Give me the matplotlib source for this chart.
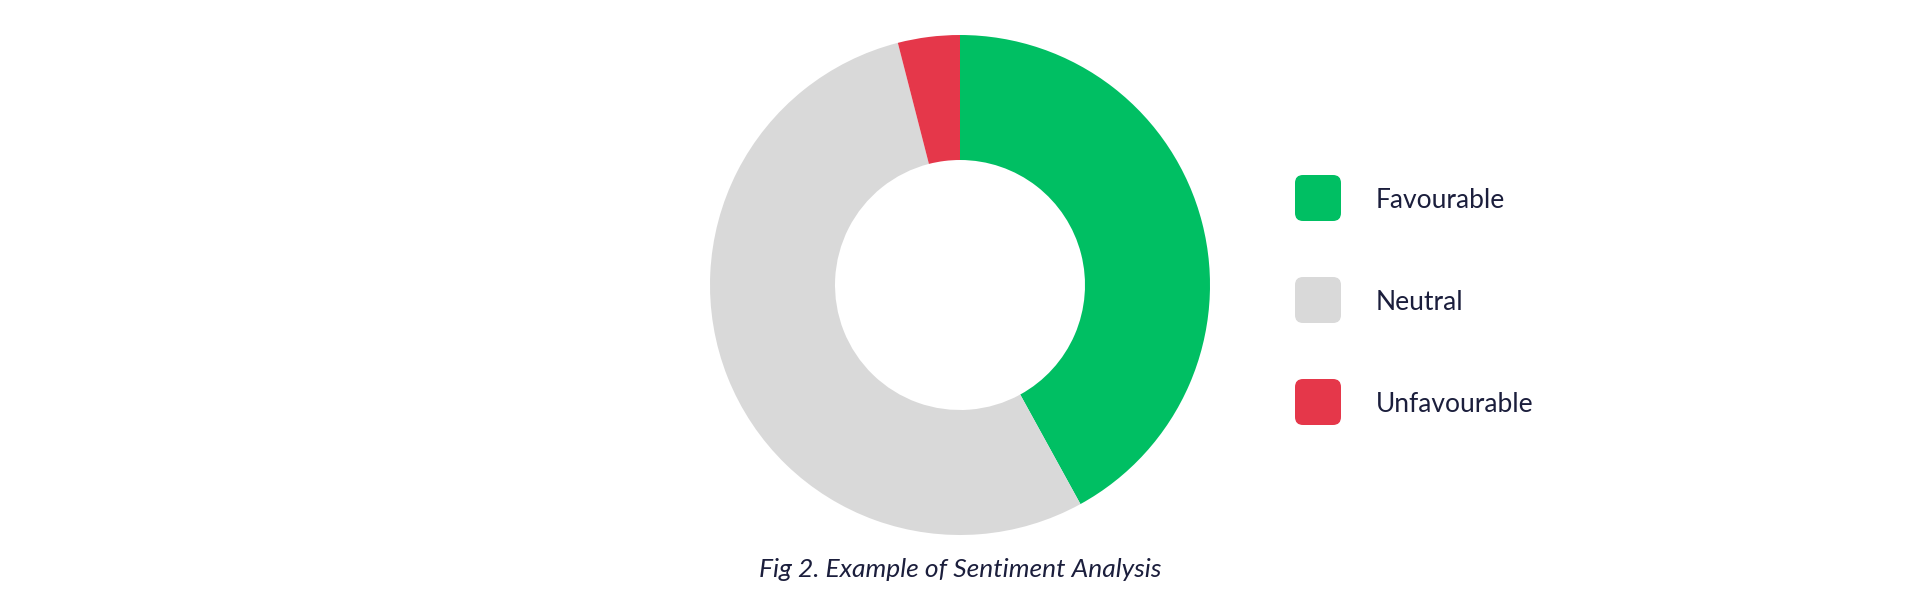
import matplotlib
matplotlib.use('Agg')
import matplotlib.pyplot as plt
from matplotlib.patches import FancyBboxPatch

# --- data ---
labels = ['Favourable', 'Neutral', 'Unfavourable']
shares = [42, 54, 4]
colors = ['#00BF63', '#D9D9D9', '#E5374A']
caption = 'Fig 2. Example of Sentiment Analysis'

TEXT_COLOR = '#1B1E3C'
W, H = 1920, 600

plt.rcParams['font.family'] = ['Lato', 'DejaVu Sans']

fig = plt.figure(figsize=(W / 100, H / 100), dpi=100)
fig.patch.set_facecolor('white')

# donut: centre (960, 285) px, outer radius 250 px
cx, cy, r = 960, 285, 250
ax = fig.add_axes([(cx - r) / W, (H - cy - r) / H, 2 * r / W, 2 * r / H])
ax.pie(shares, colors=colors, startangle=90, counterclock=False,
       radius=1, wedgeprops=dict(width=0.5, edgecolor='none', linewidth=0))
ax.set_xlim(-1, 1)
ax.set_ylim(-1, 1)
ax.set_aspect('equal')
ax.axis('off')

# overlay in pixel coordinates for legend and caption
ov = fig.add_axes([0, 0, 1, 1])
ov.set_xlim(0, W)
ov.set_ylim(H, 0)
ov.axis('off')
ov.patch.set_alpha(0)

box = 46
x0, y_first, step = 1295, 198, 102
for i, (lab, col) in enumerate(zip(labels, colors)):
    yc = y_first + i * step
    ov.add_patch(FancyBboxPatch((x0 + 8, yc - box / 2 + 8), box - 16, box - 16,
                                boxstyle='round,pad=8', facecolor=col,
                                edgecolor='none'))
    ov.text(1376, yc + 10, lab, fontsize=19, color=TEXT_COLOR,
            ha='left', va='baseline')

ov.text(cx, 577, caption, fontsize=19, style='italic', color=TEXT_COLOR,
        ha='center', va='baseline')

fig.savefig('out.png', dpi=100, facecolor='white')
